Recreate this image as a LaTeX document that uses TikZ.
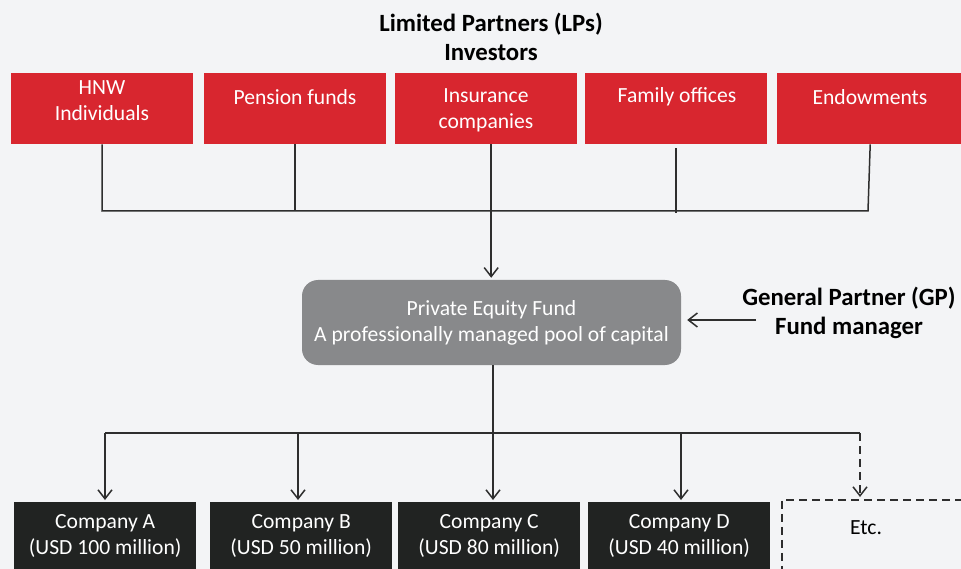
\documentclass[tikz,border=0pt]{standalone}
\usepackage{fontspec}
\setmainfont{Carlito}
\usetikzlibrary{arrows.meta}
\definecolor{bg}{HTML}{F3F4F6}
\definecolor{lpred}{HTML}{D8262F}
\definecolor{fundgray}{HTML}{88898B}
\definecolor{coblack}{HTML}{212322}
\definecolor{linecol}{HTML}{2E2E2E}
\begin{document}
\begin{tikzpicture}[x=1pt,y=-1pt,
  lpbox/.style={fill=lpred, minimum width=182pt, minimum height=71pt, inner sep=0pt, anchor=north west},
  cobox/.style={fill=coblack, minimum width=182pt, minimum height=68pt, inner sep=0pt, anchor=north west,
    text=white, font=\fontsize{21.6}{26}\selectfont, align=center},
  etcbox/.style={draw=linecol, line width=1.5pt, dash pattern=on 8pt off 5pt, minimum width=200pt, minimum height=80pt, inner sep=0pt, anchor=north west},
  fundbox/.style={fill=fundgray, minimum width=379pt, minimum height=85pt, rounded corners=16pt, inner sep=0pt,
    text=white, font=\fontsize{21.6}{26}\selectfont, align=center},
  wtxt/.style={text=white, font=\fontsize{21.6}{26}\selectfont, align=center, inner sep=0pt},
  dtxt/.style={text=black, font=\fontsize{21.6}{26}\selectfont, align=center, inner sep=0pt},
  btxt/.style={text=black, font=\bfseries\fontsize{24.8}{29}\selectfont, align=center, inner sep=0pt},
  conn/.style={draw=linecol, line width=1.5pt},
  arr/.style={conn, -{Straight Barb[length=9pt,width=14pt,line width=1.5pt]}},
  darr/.style={arr, dash pattern=on 8pt off 5pt}
]
\useasboundingbox (0,0) rectangle (961,569);
\clip (0,0) rectangle (961,569);
\fill[bg] (0,0) rectangle (961,569);

% title
\node[btxt] (title) at (491,37) {Limited Partners (LPs)\\Investors};

% LP boxes
\node[lpbox] (lp1) at (11,73) {};
\node[lpbox] (lp2) at (204,73) {};
\node[lpbox] (lp3) at (395,73) {};
\node[lpbox] (lp4) at (585,73) {};
\node[lpbox, minimum width=186pt] (lp5) at (777,73) {};
\node[wtxt] (t1) at (102,101) {HNW\\Individuals};
\node[wtxt] (t2) at (295,97) {Pension funds};
\node[wtxt] (t3) at (486,110) {Insurance\\companies};
\node[wtxt] (t4) at (677,97) {Family offices};
\node[wtxt] (t5) at (870,97) {Endowments};

% fund
\node[fundbox] (fund) at (491.5,322.5) {Private Equity Fund\\A professionally managed pool of capital};
\node[btxt] (gp) at (849,313) {General Partner (GP)\\Fund manager};
\coordinate (gpa) at (756,320);

% collector bus
\coordinate (busL) at (102,211);
\coordinate (busR) at (868,211);
\draw[conn] (lp1.south) -- (busL) -- (busR) -- (lp5.south);
\draw[conn] (lp2.south) -- (lp2.south |- busL);
\draw[conn] ([yshift=-4pt]lp4.south) -- ([yshift=-2pt]lp4.south |- busL);
\draw[arr, shorten >=2pt] ([xshift=5pt]lp3.south) -- ([xshift=5pt]lp3.south |- fund.north);
\draw[arr, shorten >=6pt] (gpa) -- (gpa -| fund.east);

% companies
\node[cobox] (coA) at (14,502) {Company A\\(USD 100 million)};
\node[cobox] (coB) at (210,502) {Company B\\(USD 50 million)};
\node[cobox] (coC) at (398,502) {Company C\\(USD 80 million)};
\node[cobox] (coD) at (588,502) {Company D\\(USD 40 million)};
\node[etcbox] (etc) at (781,499) {};
\node[dtxt] (etct) at (866,528) {Etc.};

% distribution bus
\coordinate (dA) at (105,433);
\coordinate (dB) at (298,433);
\coordinate (dC) at (493,433);
\coordinate (dD) at (681,433);
\coordinate (dE) at (860,433);
\draw[conn] ([xshift=1.5pt]fund.south) -- (dC);
\draw[conn] (dA) -- (dE);
\draw[arr, shorten >=2pt] (dA) -- (dA |- coA.north);
\draw[arr, shorten >=2pt] (dB) -- (dB |- coB.north);
\draw[arr, shorten >=2pt] (dC) -- (dC |- coC.north);
\draw[arr, shorten >=2pt] (dD) -- (dD |- coD.north);
\draw[darr, shorten >=2pt] (dE) -- (dE |- etc.north);
\end{tikzpicture}
\end{document}
